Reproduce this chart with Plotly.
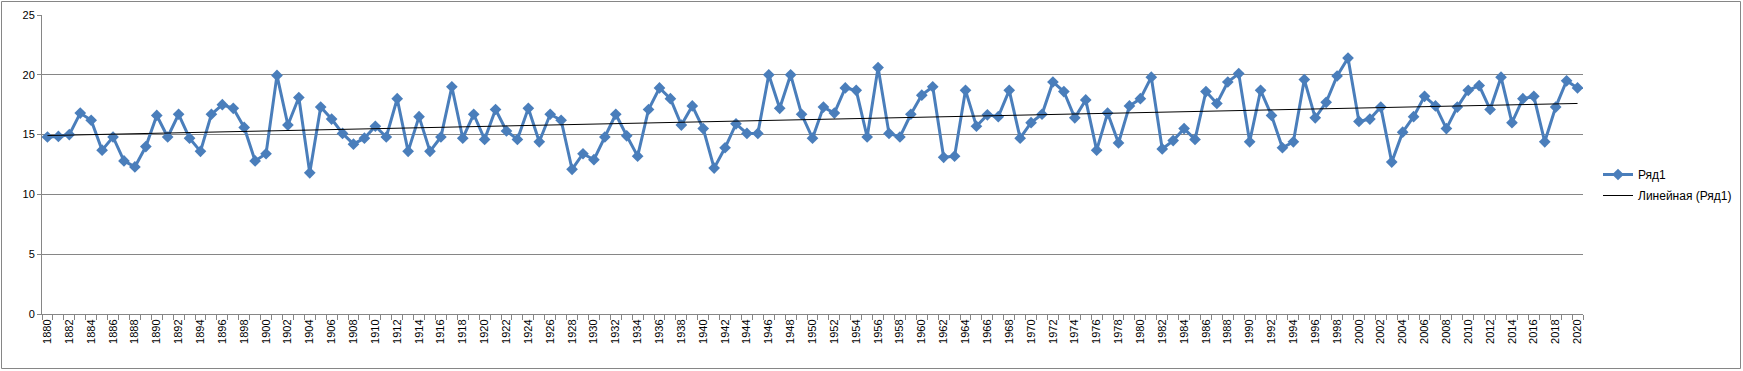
import numpy as np
import plotly.graph_objects as go

years = list(range(1880, 2021))
values = [
    14.8, 14.85, 15.0, 16.8, 16.2, 13.7, 14.8, 12.8, 12.3, 14.0,   # 1880-1889
    16.6, 14.8, 16.7, 14.7, 13.6, 16.7, 17.5, 17.2, 15.6, 12.8,   # 1890-1899
    13.4, 19.95, 15.8, 18.1, 11.8, 17.3, 16.3, 15.1, 14.2, 14.7,  # 1900-1909
    15.7, 14.8, 18.0, 13.6, 16.5, 13.6, 14.8, 19.0, 14.7, 16.7,   # 1910-1919
    14.6, 17.1, 15.3, 14.6, 17.2, 14.4, 16.7, 16.2, 12.1, 13.4,   # 1920-1929
    12.9, 14.8, 16.7, 14.9, 13.2, 17.1, 18.9, 18.0, 15.8, 17.4,   # 1930-1939
    15.5, 12.2, 13.9, 15.9, 15.1, 15.1, 20.0, 17.2, 20.0, 16.7,   # 1940-1949
    14.7, 17.3, 16.8, 18.9, 18.7, 14.8, 20.6, 15.1, 14.8, 16.7,   # 1950-1959
    18.3, 19.0, 13.1, 13.2, 18.7, 15.7, 16.65, 16.5, 18.7, 14.7,  # 1960-1969
    16.0, 16.7, 19.4, 18.6, 16.4, 17.9, 13.7, 16.8, 14.3, 17.4,   # 1970-1979
    18.0, 19.8, 13.8, 14.5, 15.5, 14.6, 18.6, 17.6, 19.4, 20.1,   # 1980-1989
    14.4, 18.7, 16.6, 13.9, 14.4, 19.6, 16.4, 17.7, 19.9, 21.4,   # 1990-1999
    16.1, 16.3, 17.3, 12.7, 15.2, 16.5, 18.2, 17.4, 15.5, 17.3,   # 2000-2009
    18.7, 19.1, 17.1, 19.8, 16.0, 18.0, 18.2, 14.4, 17.3, 19.5,   # 2010-2019
    18.9,                                                         # 2020
]
tick_years = list(range(1880, 2021, 2))
y_ticks = [0, 5, 10, 15, 20, 25]
series_name = "Ряд1"
trend_name = "Линейная (Ряд1)"

# linear trend (as Excel computes it)
xi = np.arange(1, len(values) + 1)
slope, intercept = np.polyfit(xi, values, 1)
trend = list(slope * xi + intercept)

W, H = 1743, 371
ml, mr, mt, mb = 42, 160, 15, 57
pw, ph = W - ml - mr, H - mt - mb

blue = "#4A7EBB"
grid = "#868686"

fig = go.Figure()
fig.add_trace(go.Scatter(
    x=years, y=values, mode="lines+markers", name=series_name,
    legendgroup="a",
    line=dict(color=blue, width=3),
    marker=dict(symbol="diamond", size=9, color=blue),
))
fig.add_trace(go.Scatter(
    x=years, y=trend, mode="lines", name=trend_name,
    legendgroup="b",
    line=dict(color="black", width=1),
))

def px_x(p):
    return (p - ml) / pw

def px_y(p):
    return 1 - (p - mt) / ph

# outer chart border
fig.add_shape(type="rect", xref="paper", yref="paper",
              x0=px_x(1.5), x1=px_x(1740.5), y0=px_y(368.5), y1=px_y(1.5),
              line=dict(color="#868686", width=1), fillcolor="rgba(0,0,0,0)", layer="below")

font_family = "Liberation Sans, Arial, sans-serif"

fig.update_layout(
    width=W, height=H, autosize=False,
    margin=dict(l=ml, r=mr, t=mt, b=mb, pad=0, autoexpand=False),
    paper_bgcolor="white", plot_bgcolor="white",
    font=dict(family=font_family, size=11, color="black"),
    showlegend=True,
    legend=dict(
        xref="container", yref="container",
        x=1598 / W, y=1 - 160 / H, xanchor="left", yanchor="top",
        font=dict(size=12, family=font_family, color="black"),
        itemwidth=30, tracegroupgap=2, bgcolor="rgba(0,0,0,0)",
    ),
    xaxis=dict(
        range=[1879.5, 2020.5],
        tickmode="array", tickvals=tick_years, ticktext=[str(y) for y in tick_years],
        tickangle=-90, ticks="", showgrid=False, zeroline=False,
        showline=True, linecolor=grid, linewidth=1,
        tickfont=dict(size=11), automargin=False,
        minor=dict(tick0=1879.5, dtick=1, ticks="outside", ticklen=5,
                   tickcolor=grid, tickwidth=1, showgrid=False),
    ),
    yaxis=dict(
        range=[0, 25], tickmode="array", tickvals=y_ticks,
        ticks="outside", ticklen=4, tickcolor=grid,
        showgrid=True, gridcolor=grid, gridwidth=1, zeroline=False,
        showline=True, linecolor=grid, linewidth=1,
        tickfont=dict(size=11), automargin=False,
    ),
)

fig.write_html("out.html", config={"displayModeBar": False},
               post_script="document.body.style.margin='0';")
